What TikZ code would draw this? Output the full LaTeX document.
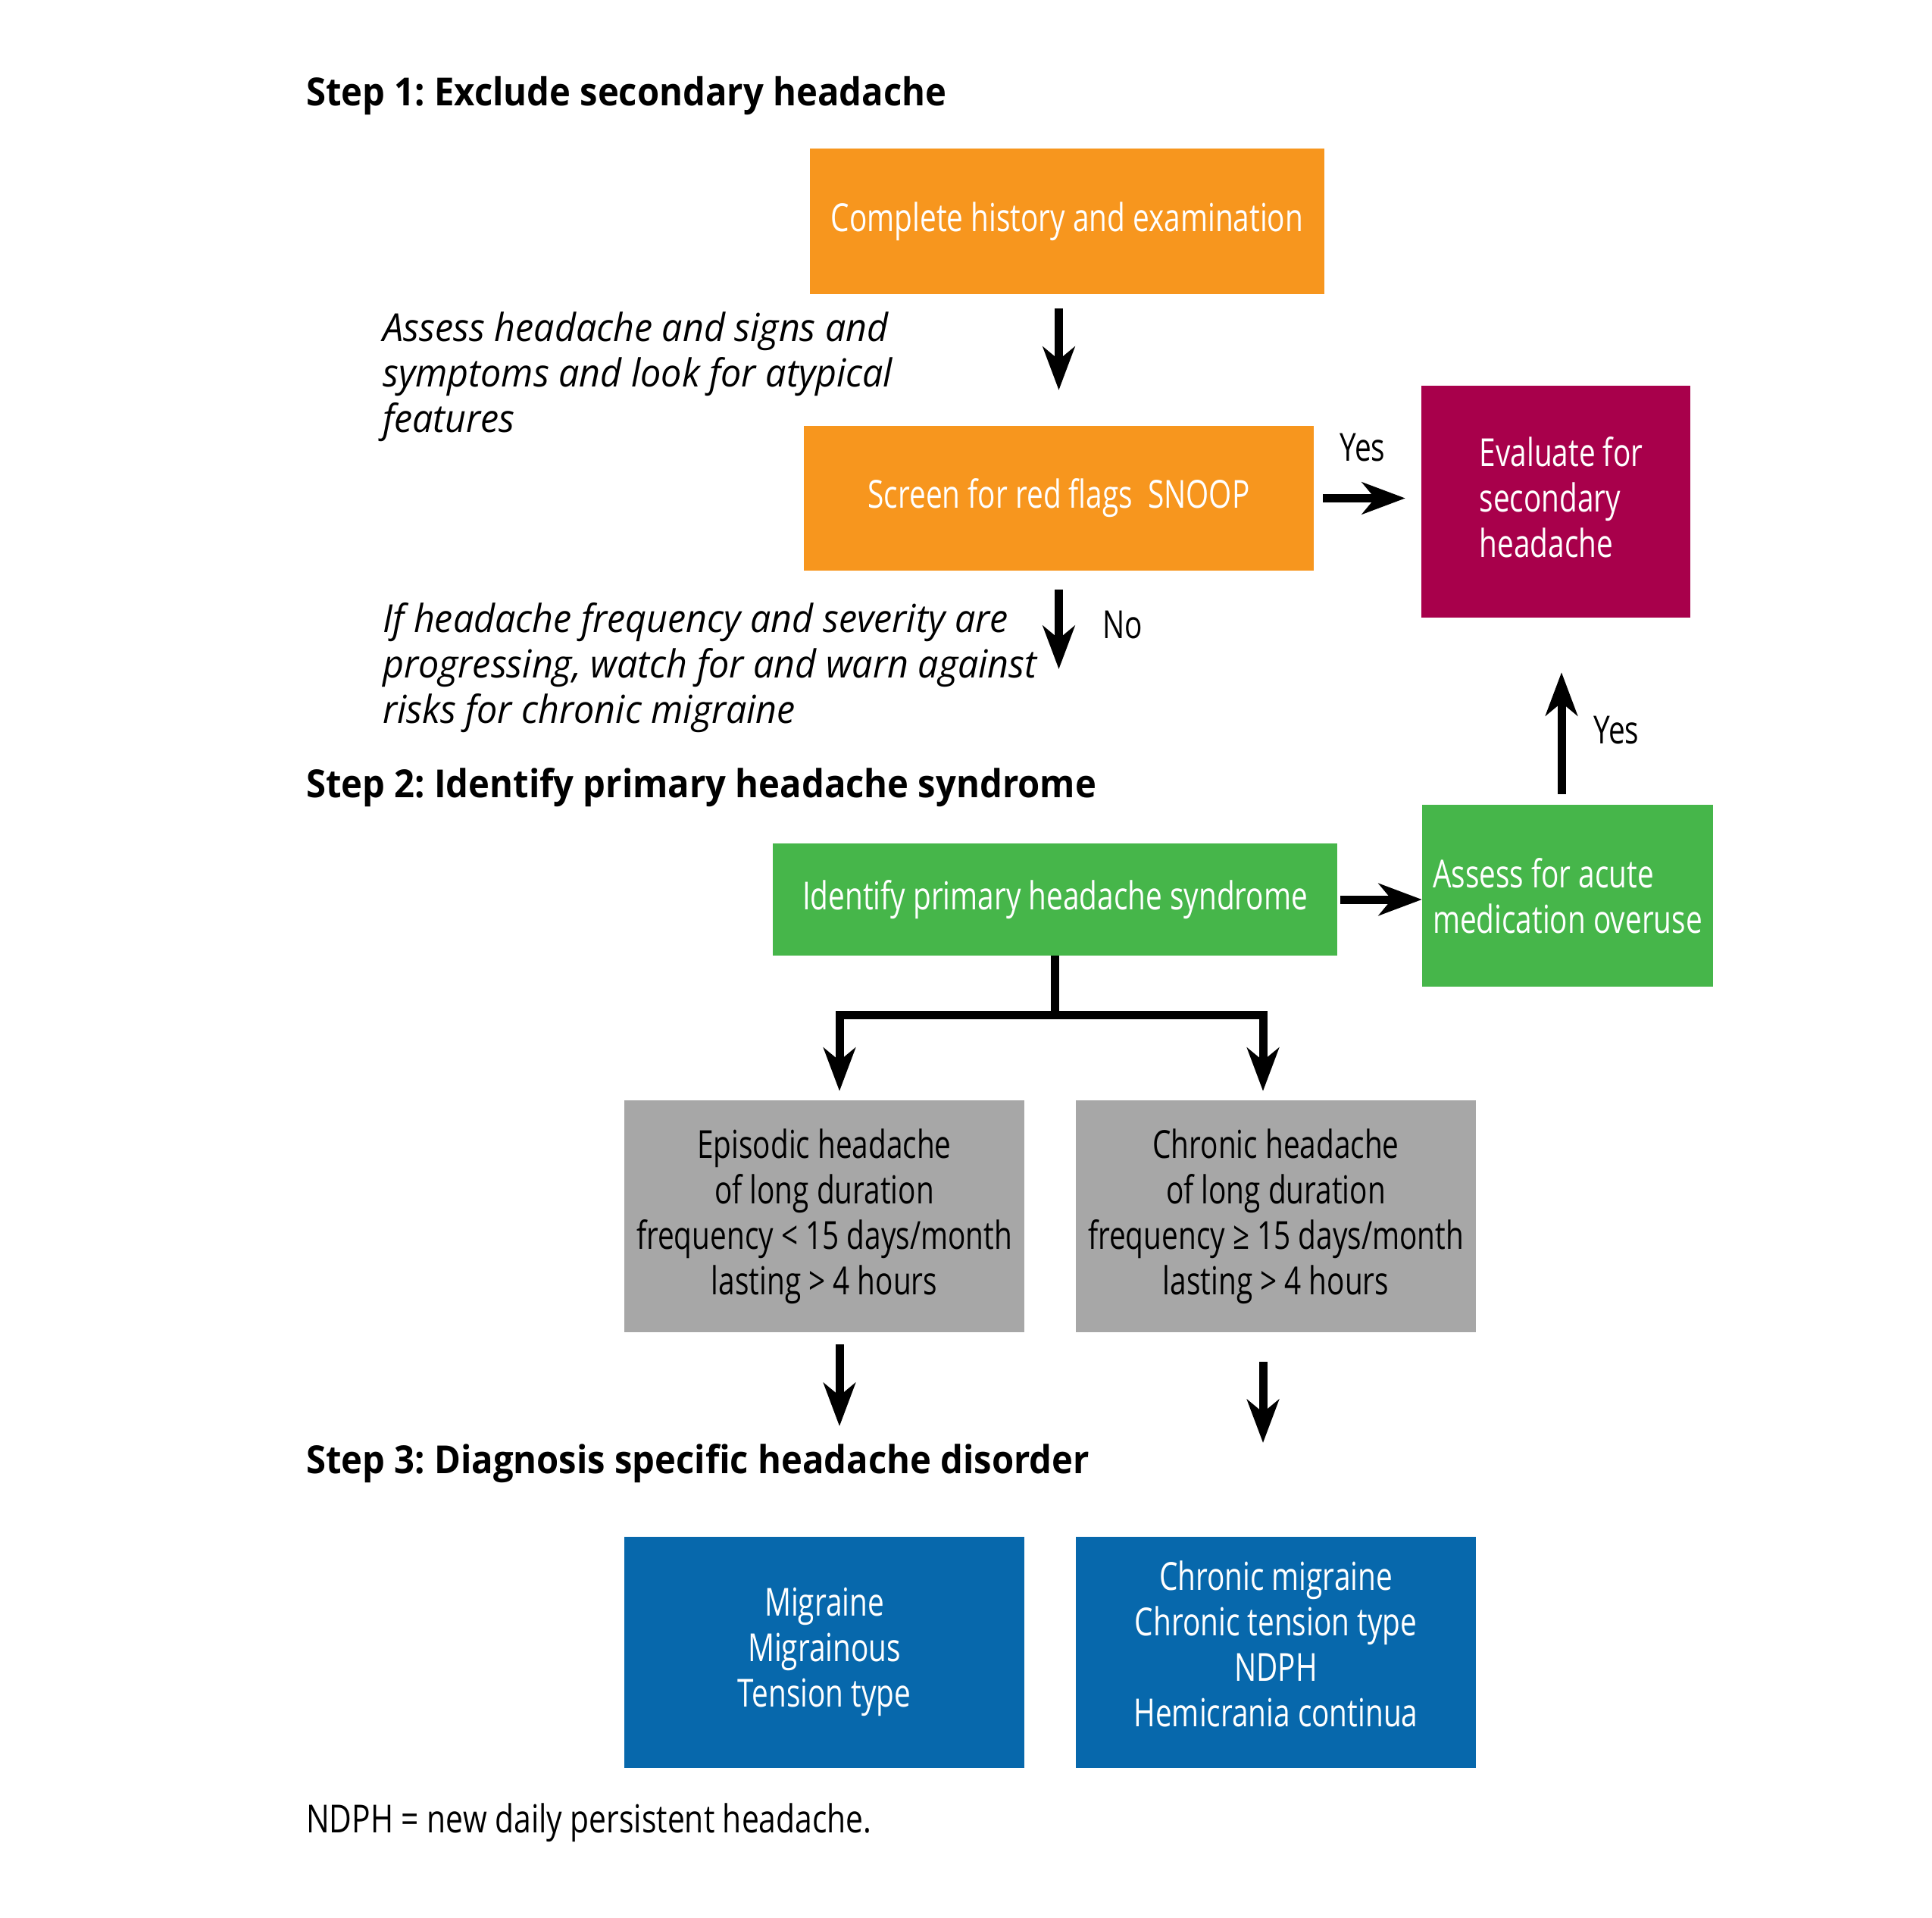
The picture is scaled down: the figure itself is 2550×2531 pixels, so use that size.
\documentclass[tikz,border=0pt]{standalone}
\usepackage{fontspec}
\setmainfont{Open Sans}[FakeStretch=0.76]
\newfontfamily\stepfont{Open Sans}[FakeStretch=0.925]
\newfontfamily\notefont{Open Sans}[FakeStretch=0.95]
\newfontfamily\footfont{Open Sans}[FakeStretch=0.80]
\usepackage{tikz}
\usetikzlibrary{calc}
\usetikzlibrary{positioning}
\usetikzlibrary{arrows.meta}
\definecolor{orangebox}{RGB}{247,150,30}
\definecolor{magentabox}{RGB}{168,0,75}
\definecolor{greenbox}{RGB}{70,182,74}
\definecolor{graybox}{RGB}{167,167,167}
\definecolor{bluebox}{RGB}{7,104,172}
\frenchspacing
\tikzset{
  myarrow/.style={
    draw=black,
    line width=11pt,
    -{Stealth[length=57pt, width=42pt, inset=17pt]},
  },
  myline/.style={
    draw=black,
    line width=11pt,
  },
  mybox/.style={
    shape=rectangle,
    inner sep=0pt,
    align=center,
    text=white,
    font=\fontsize{51}{60}\selectfont
  },
  mylabel/.style={
    anchor=base west,
    inner sep=0pt,
    font=\fontsize{51}{60}\selectfont
  },
  mystep/.style={
    anchor=base west,
    inner sep=0pt,
    font=\stepfont\bfseries\fontsize{51}{60}\selectfont
  },
  mynote/.style={
    anchor=base west,
    inner sep=0pt,
    align=left,
    font=\notefont\itshape\fontsize{51}{60}\selectfont
  }
}

\begin{document}
\begin{tikzpicture}[x=1pt, y=-1pt]
  \useasboundingbox (0,0) rectangle (2550,2531);

  % step 1
  \node [mystep] (step1) at (404,140) {Step 1: Exclude secondary headache};
  \node [mybox, fill=orangebox, minimum width=679pt, minimum height=192pt] (hist) at (1408.5,292) {Complete history and examination};
  % base of a multi-line note is its last line
  \node [mynote] (assess) at (505,570) {Assess headache and signs and\\symptoms and look for atypical\\features};
  \node [mybox, fill=orangebox, minimum width=673pt, minimum height=191pt] (snoop) at (1397.5,657.5) {Screen for red flags~~SNOOP};
  \node [mybox, fill=magentabox, minimum width=355pt, minimum height=306pt, align=left] (evalsec) at (2053.5,662) {\hspace*{14pt}Evaluate for\\\hspace*{14pt}secondary\\\hspace*{14pt}headache\\[-47pt]};
  \node [mylabel] (yes1) at (1768,608) {Yes};
  \node [mylabel] (no) at (1455,842) {No};
  \node [mynote] (warn) at (505,954) {If headache frequency and severity are\\progressing, watch for and warn against\\risks for chronic migraine};
  \coordinate (noend) at (1397.5,883);

  \draw [myarrow, shorten <=19pt, shorten >=47pt] (snoop.north |- hist.south) -- (snoop.north);
  \draw [myarrow, shorten <=12pt, shorten >=21pt] (snoop.east) -- (snoop.east -| evalsec.west);
  \draw [myarrow, shorten <=25pt] (snoop.south) -- (noend);

  % step 2
  \node [mystep] (step2) at (404,1052) {Step 2: Identify primary headache syndrome};
  \node [mybox, fill=greenbox, minimum width=745pt, minimum height=148pt] (identify) at (1392.5,1187) {Identify primary headache syndrome};
  \node [mybox, fill=greenbox, minimum width=384pt, minimum height=240pt, align=left] (overuse) at (2069,1182) {Assess for acute\\medication overuse};
  \node [mylabel] (yes2) at (2103,981) {Yes};
  \node [mybox, fill=graybox, text=black, minimum width=528pt, minimum height=306pt] (episodic) at (1088,1605) {Episodic headache\\of long duration\\frequency < 15 days/month\\lasting > 4 hours};
  \node [mybox, fill=graybox, text=black, minimum width=528pt, minimum height=306pt] (chronic) at (1684,1605) {Chronic headache\\of long duration\\frequency ≥ 15 days/month\\lasting > 4 hours};

  \draw [myarrow, shorten <=4pt] (identify.east) -- (identify.east -| overuse.west);
  \draw [myarrow, shorten <=14pt, shorten >=72pt] ([xshift=-8pt]overuse.north) -- ([xshift=-8pt]overuse.north |- evalsec.south);
  \draw [myline] (identify.south) -- ++(0,78) coordinate (split);
  \draw [myarrow, shorten >=12pt] (split) -| ([xshift=20pt]episodic.north);
  \draw [myarrow, shorten >=12pt] (split) -| ([xshift=-17pt]chronic.north);

  % step 3
  \node [mystep] (step3) at (404,1944) {Step 3: Diagnosis specific headache disorder};
  \node [mybox, fill=bluebox, minimum width=528pt, minimum height=305pt] (migraine) at (1088,2180) {Migraine\\Migrainous\\Tension type};
  \node [mybox, fill=bluebox, minimum width=528pt, minimum height=305pt] (chronmig) at (1684,2180) {Chronic migraine\\Chronic tension type\\NDPH\\Hemicrania continua\\[-38pt]};
  \coordinate (epiend) at (1108,1882);
  \coordinate (chrend) at (1667,1904);

  \draw [myarrow, shorten <=16pt] (epiend |- episodic.south) -- (epiend);
  \draw [myarrow, shorten <=39pt] (chrend |- chronic.south) -- (chrend);

  \node [mylabel, font=\footfont\fontsize{51}{60}\selectfont] (ndph) at (404,2418) {NDPH = new daily persistent headache.};
\end{tikzpicture}
\end{document}
